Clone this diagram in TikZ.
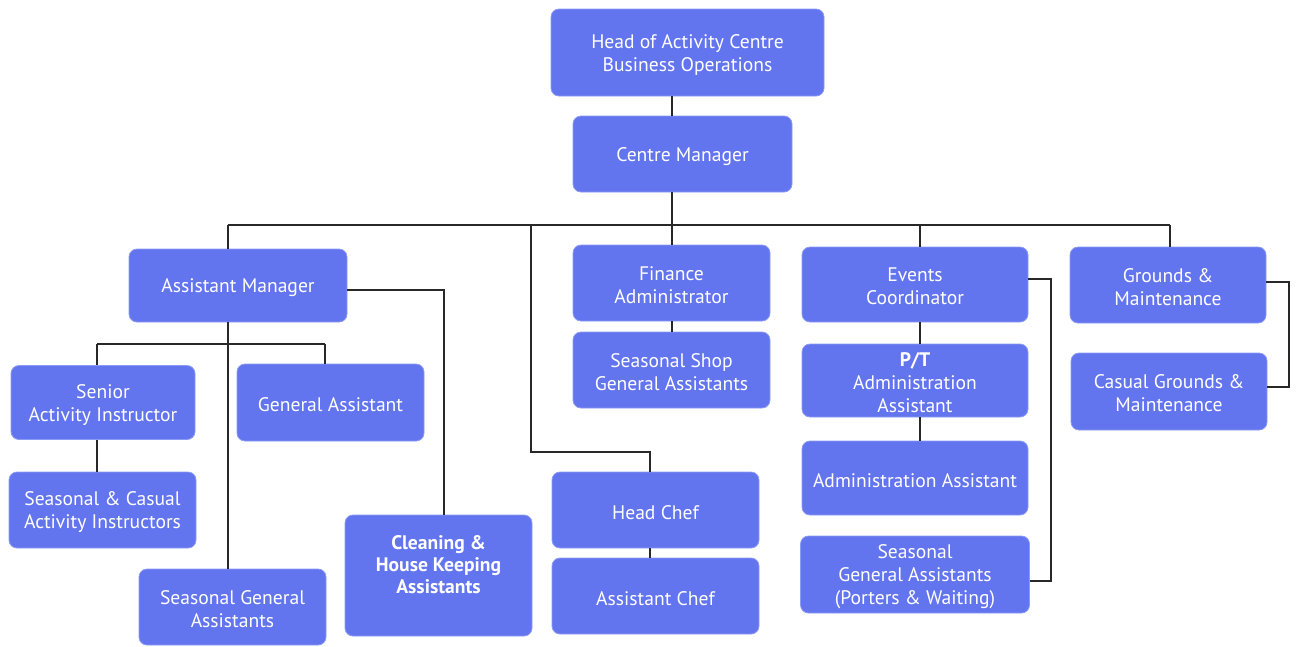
\documentclass[tikz,border=0pt]{standalone}
\usepackage{fontspec}
\setmainfont{PT Sans}
\definecolor{boxfill}{RGB}{99,117,238}
\definecolor{boxline}{RGB}{140,155,245}
\definecolor{wire}{RGB}{40,40,40}
\newcommand\firstln{\rule{0pt}{18.2pt}}
\begin{document}
\begin{tikzpicture}[x=1pt,y=-1pt,
  box/.style={draw=boxline, line width=0.8pt, fill=boxfill, rounded corners=8pt,
    text=white, align=center, font=\fontsize{19.6}{23}\selectfont, inner sep=1pt,
    execute at begin node={\rule{0pt}{18.5pt}}},
  wire/.style={draw=wire, line width=1.3pt}]
\useasboundingbox (0,0) rectangle (1298,646);
% nodes
\node[box, minimum width=273, minimum height=87] (head) at (687.5,52.5) {\firstln Head of Activity Centre\\Business Operations};
\node[box, minimum width=219, minimum height=76] (cm) at (682.5,154) {Centre Manager};
\node[box, minimum width=218, minimum height=73] (am) at (238,285.5) {Assistant Manager};
\node[box, minimum width=184, minimum height=74] (sai) at (103,402.5) {\firstln Senior\\Activity Instructor};
\node[box, minimum width=187, minimum height=76] (scai) at (102.5,510) {\firstln Seasonal \& Casual\\Activity Instructors};
\node[box, minimum width=187, minimum height=77] (ga) at (330.5,402.5) {General Assistant};
\node[box, minimum width=187, minimum height=76] (sga) at (232.5,607) {\firstln Seasonal General\\Assistants};
\node[box, minimum width=187, minimum height=121, font=\fontsize{19.6}{22}\selectfont\bfseries] (clean) at (438.5,575.5) {\firstln Cleaning \&\\House Keeping\\Assistants\\[-2pt]\strut};
\node[box, minimum width=197, minimum height=76] (fin) at (671.5,283) {\firstln Finance\\Administrator};
\node[box, minimum width=197, minimum height=76] (shop) at (671.5,370) {\firstln Seasonal Shop\\General Assistants};
\node[box, minimum width=207, minimum height=76] (hchef) at (655.5,510) {Head Chef};
\node[box, minimum width=207, minimum height=76] (achef) at (655.5,596) {Assistant Chef};
\node[box, minimum width=226, minimum height=75] (ev) at (915,284.5) {\firstln Events\\Coordinator};
\node[box, minimum width=226, minimum height=73] (pt) at (915,380.5) {\firstln\textbf{P/T}\\Administration\\Assistant};
\node[box, minimum width=226, minimum height=74] (adm) at (915,478) {Administration Assistant};
\node[box, minimum width=229, minimum height=77] (spw) at (915,574.5) {\firstln Seasonal\\General Assistants\\(Porters \& Waiting)};
\node[box, minimum width=196, minimum height=76] (gm) at (1168,285) {\firstln Grounds \&\\Maintenance};
\node[box, minimum width=196, minimum height=77] (cgm) at (1169,391.5) {\firstln Casual Grounds \&\\Maintenance};
% guide coordinates
\coordinate (xmain) at (672,0);
\coordinate (busy) at (0,225);
\coordinate (xam) at (228,0);
\coordinate (xkit) at (531,0);
\coordinate (xev) at (920,0);
\coordinate (xgm) at (1170,0);
\coordinate (bus2y) at (0,344);
\coordinate (xsai) at (97,0);
\coordinate (xga) at (325,0);
\coordinate (xclean) at (444,0);
\coordinate (kity) at (0,452);
\coordinate (xhchef) at (650,0);
\coordinate (xevbr) at (1051,0);
\coordinate (xgmbr) at (1289,0);
% connectors
\draw[wire] (head.south -| xmain) -- (cm.north -| xmain);
\draw[wire] (cm.south -| xmain) -- (fin.north -| xmain);
\draw[wire] (busy -| xam) -- (busy -| xgm);
\draw[wire] (busy -| xam) -- (am.north -| xam);
\draw[wire] (busy -| xev) -- (ev.north -| xev);
\draw[wire] (busy -| xgm) -- (gm.north -| xgm);
\draw[wire] (fin.south -| xmain) -- (shop.north -| xmain);
\draw[wire] (busy -| xkit) -- (kity -| xkit) -- (kity -| xhchef) -- (hchef.north -| xhchef);
\draw[wire] (hchef.south -| xhchef) -- (achef.north -| xhchef);
\draw[wire] (am.south -| xam) -- (sga.north -| xam);
\draw[wire] (bus2y -| xsai) -- (bus2y -| xga);
\draw[wire] (bus2y -| xsai) -- (sai.north -| xsai);
\draw[wire] (bus2y -| xga) -- (ga.north -| xga);
\draw[wire] (sai.south -| xsai) -- (scai.north -| xsai);
\draw[wire] ([yshift=-4.5pt]am.east) -- ([yshift=-4.5pt]am.east -| xclean) -- (clean.north -| xclean);
\draw[wire] (ev.south -| xev) -- (pt.north -| xev);
\draw[wire] (pt.south -| xev) -- (adm.north -| xev);
\draw[wire] ([yshift=5.5pt]ev.east) -- ([yshift=5.5pt]ev.east -| xevbr) -- ([yshift=-6.5pt]spw.east -| xevbr) -- ([yshift=-6.5pt]spw.east);
\draw[wire] ([yshift=3pt]gm.east) -- ([yshift=3pt]gm.east -| xgmbr) -- ([yshift=4.5pt]cgm.east -| xgmbr) -- ([yshift=4.5pt]cgm.east);
\end{tikzpicture}
\end{document}
